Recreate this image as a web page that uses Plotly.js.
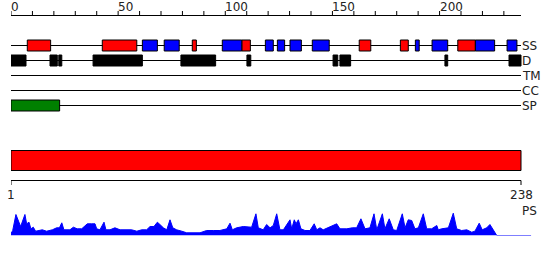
<!DOCTYPE html>
<html>
<head>
<meta charset="utf-8">
<script src="https://cdn.plot.ly/plotly-3.0.1.min.js"></script>
<style>html,body{margin:0;padding:0;background:#fff;}#chart{width:550px;height:260px;}</style>
</head>
<body>
<div id="chart"></div>
<script>
// ---------- data ----------
const seqLength = 238;
const trackNames = ['SS', 'D', 'TM', 'CC', 'SP'];
const helixStart = [7.6, 42.6, 84.6, 107.7, 162.5, 181.7, 208.5];
const helixEnd   = [18.5, 58.7, 86.5, 111.7, 167.9, 185.4, 216.7];
const strandStart = [61.3, 71.5, 98.6, 118.7, 124.3, 130.2, 140.6, 188.7, 196.5, 216.7, 231.5];
const strandEnd   = [68.3, 78.5, 107.7, 122.4, 127.7, 135.5, 148.5, 190.5, 203.8, 225.7, 236.1];
const disoStart = [0, 18.2, 22.3, 38.3, 79.3, 110.1, 150.3, 153.5, 202.5, 232.4];
const disoEnd   = [7.0, 21.6, 23.7, 61.3, 95.5, 111.9, 152.5, 158.5, 203.8, 238];
const tmStart = [], tmEnd = [];
const ccStart = [], ccEnd = [];
const spStart = [0], spEnd = [22.7];
const domainStart = [0], domainEnd = [238];
const topTickValues = [0,10,20,30,40,50,60,70,80,90,100,110,120,130,140,150,160,170,180,190,200,210,220,230];
const topTickLabels = ['0','50','100','150','200'];
const bottomLabels = ['1', '238'];
const psX = [-0.5,0.8,2.3,3.4,4.5,6.5,7.3,8.4,9.3,10.4,11.5,14.6,16.6,19.3,21.3,22.6,23.7,24.7,27.5,29.1,30.9,33.0,35.6,37.6,39.2,40.0,41.5,43.4,44.3,46.2,48.5,50.9,56.3,58.7,61.0,63.3,64.9,66.7,68.3,69.5,71.1,72.7,74.2,75.5,77.3,79.7,82.0,88.2,91.3,94.4,97.5,100.7,102.2,103.3,105.3,108.4,110.8,112.3,114.3,115.4,117.7,119.3,120.9,122.4,124.0,125.5,127.1,130.2,131.0,132.2,133.0,134.1,135.3,137.2,139.5,141.5,142.7,144.2,145.7,148.1,152.0,153.5,156.7,159.3,161.3,163.3,165.2,167.5,169.4,170.7,173.3,174.5,176.5,178.4,180.0,182.6,183.9,185.4,187.0,188.5,190.1,192.4,194.0,196.3,198.7,199.4,201.0,204.1,206.4,208.0,210.3,212.7,215.0,216.5,218.5,219.9,222.0,223.5,225.1,226.7,242.7];
const psY = [0,5,21,15,9,21,11.7,13.3,6.7,8.3,4.3,5.7,4.3,5.7,7.7,7.7,12.7,5.7,5.7,8.3,6.7,6.7,11.7,11.7,11.7,6.7,5.7,13.3,5.7,5.7,7.7,5.7,5.7,4.3,5.7,5.7,9,9,13.3,11,7.7,5.7,15.7,7.7,5.7,4.3,2.7,2.7,5,5,5,6.7,12.3,5.7,7.7,9,8.3,8.3,21.7,7.7,5.7,11,7.7,10,21.7,5.7,5.7,15.7,6.7,15.7,11.7,15.7,6.7,5,5,11.7,5.7,7.7,5.7,7.7,11.7,6.7,6.7,7.7,7.7,16.7,6.7,7.7,21.7,5.7,21.7,6.7,16.7,5.7,5,21.7,7.7,15.7,15,6.7,7.7,21.7,6.7,6.7,10,5.7,6.7,7.7,22.3,6.7,5,5.7,3.3,4.3,12.3,5.7,7.7,11,5,0,0];

// ---------- layout helpers (pixel positions) ----------
const trackY = {SS: 45.5, D: 60.5, TM: 75.5, CC: 90.5, SP: 105.5};
const half = 5.5;
const font = {family: 'DejaVu Sans, sans-serif', size: 12, color: '#222'};
const shapes = [];
const annotations = [];

trackNames.forEach(n => {
  shapes.push({type: 'line', xref: 'x', yref: 'y', x0: 0, x1: seqLength, y0: trackY[n], y1: trackY[n], line: {color: '#000', width: 1}});
  annotations.push({x: seqLength, y: trackY[n], xref: 'x', yref: 'y', text: n, showarrow: false, xanchor: 'left', yanchor: 'middle', xshift: -1, font: font});
});
function boxes(starts, ends, track, color) {
  starts.forEach((s, i) => {
    shapes.push({type: 'rect', xref: 'x', yref: 'y', x0: s, x1: ends[i], y0: trackY[track] - half, y1: trackY[track] + half, fillcolor: color, line: {color: '#000', width: 1}});
  });
}
boxes(helixStart, helixEnd, 'SS', '#ff0000');
boxes(strandStart, strandEnd, 'SS', '#0000ff');
boxes(disoStart, disoEnd, 'D', '#000000');
boxes(tmStart, tmEnd, 'TM', '#ffa500');
boxes(ccStart, ccEnd, 'CC', '#800080');
boxes(spStart, spEnd, 'SP', '#008000');

// top ruler
shapes.push({type: 'line', xref: 'x', yref: 'y', x0: 0, x1: seqLength, y0: 15.5, y1: 15.5, line: {color: '#000', width: 1}});
topTickValues.forEach(v => {
  shapes.push({type: 'line', xref: 'x', yref: 'y', x0: v, x1: v, y0: 11, y1: 15.5, line: {color: '#000', width: 1}});
});
topTickLabels.forEach(t => {
  annotations.push({x: +t, y: 6.5, xref: 'x', yref: 'y', text: t, showarrow: false, xanchor: 'left', yanchor: 'middle', xshift: -2, font: font});
});

// domain bar
domainStart.forEach((s, i) => {
  shapes.push({type: 'rect', xref: 'x', yref: 'y', x0: s, x1: domainEnd[i], y0: 150.5, y1: 170.5, fillcolor: '#ff0000', line: {color: '#000', width: 1}});
});
// bottom ruler
shapes.push({type: 'line', xref: 'x', yref: 'y', x0: 0, x1: seqLength, y0: 180.5, y1: 180.5, line: {color: '#000', width: 1}});
[0, seqLength].forEach((v, i) => {
  shapes.push({type: 'line', xref: 'x', yref: 'y', x0: v, x1: v, y0: 180.5, y1: 185, line: {color: '#000', width: 1}});
  annotations.push({x: v, y: 195, xref: 'x', yref: 'y', text: bottomLabels[i], showarrow: false, xanchor: 'center', yanchor: 'middle', font: font});
});
annotations.push({x: seqLength, y: 211, xref: 'x', yref: 'y', text: 'PS', showarrow: false, xanchor: 'left', yanchor: 'middle', xshift: -1, font: font});

const traces = [{
  x: psX, y: psY, xaxis: 'x', yaxis: 'y2', type: 'scatter', mode: 'lines',
  line: {color: '#0000ff', width: 1}, fill: 'tozeroy', fillcolor: '#0000ff', hoverinfo: 'skip'
}];

const plotW = 535;
const layout = {
  width: 550, height: 260,
  margin: {l: 11, r: 550 - 11 - plotW, t: 0, b: 0, pad: 0},
  paper_bgcolor: '#fff', plot_bgcolor: '#fff',
  showlegend: false,
  xaxis: {range: [0, plotW * seqLength / 510], visible: false, fixedrange: true},
  yaxis: {range: [260, 0], domain: [0, 1], visible: false, fixedrange: true},
  yaxis2: {range: [0, 23], domain: [(260 - 235.5) / 260, (260 - 212.5) / 260], anchor: 'x', visible: false, fixedrange: true},
  shapes: shapes,
  annotations: annotations
};
Plotly.newPlot('chart', traces, layout, {staticPlot: true, displayModeBar: false});
</script>
</body>
</html>
